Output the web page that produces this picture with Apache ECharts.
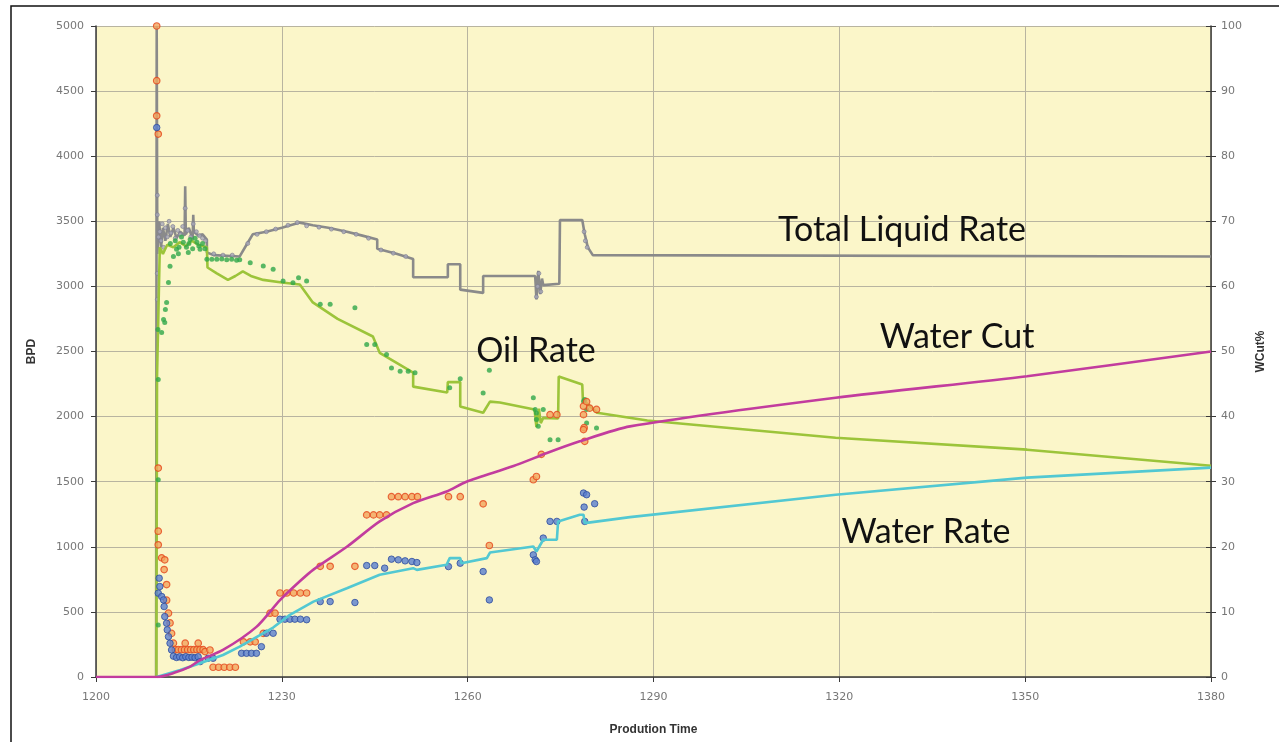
<!DOCTYPE html>
<html><head><meta charset="utf-8">
<script src="https://cdn.jsdelivr.net/npm/echarts@6/dist/echarts.min.js"></script>
<style>html,body{margin:0;padding:0;background:#fff;}#c{width:1279px;height:742px;}</style>
</head><body><div id="c"></div>
<script>
// ---- axis ranges (min, max, interval) ----
const timeAxis = [1200, 1380, 30];
const bpdAxis = [0, 5000, 500];
const wcutAxis = [0, 100, 10];
const axisNames = { x: 'Prodution Time', left: 'BPD', right: 'WCut%' };
const annotations = ['Total Liquid Rate', 'Oil Rate', 'Water Cut', 'Water Rate'];

// ---- Total liquid rate (BPD) ----
const liquidLine = [[1209.7,0],[1209.8,5000],[1209.9,3250],[1210.2,3500],[1210.5,3300],[1210.8,3450],[1211.2,3350],[1211.6,3480],[1212.0,3380],[1212.5,3450],[1213.0,3370],[1213.6,3420],[1214.3,3390],[1214.4,3770],[1214.5,3400],[1215.0,3450],[1215.6,3360],[1215.7,3550],[1215.8,3420],[1216.5,3390],[1217.2,3400],[1217.9,3360],[1217.9,3260],[1219,3240],[1223.2,3230],[1224.3,3320],[1225.3,3400],[1227.5,3420],[1230,3450],[1232.9,3490],[1235,3470],[1237.5,3450],[1240.5,3420],[1243,3390],[1245.4,3360],[1245.4,3290],[1248.5,3250],[1251.2,3210],[1251.2,3070],[1256.8,3070],[1256.8,3170],[1258.8,3170],[1258.8,2975],[1262.5,2950],[1262.5,3080],[1270.9,3080],[1271.1,2900],[1271.4,3120],[1271.7,2940],[1272.0,3060],[1272.2,3010],[1274.8,3020],[1274.9,3510],[1278.5,3510],[1278.9,3400],[1279.4,3300],[1280.2,3240],[1380,3230]];
const liquidPts = [[1209.9,3700],[1209.9,3550],[1209.9,3100],[1209.9,2900],[1210.1,3380],[1210.3,3420],[1210.5,3350],[1210.7,3480],[1210.9,3300],[1211.2,3450],[1211.5,3380],[1211.8,3500],[1212.1,3410],[1212.4,3460],[1212.8,3370],[1213.2,3430],[1213.6,3400],[1214.0,3460],[1214.4,3600],[1214.8,3430],[1215.3,3380],[1215.7,3480],[1216.2,3420],[1216.7,3390],[1217.2,3370],[1217.7,3350],[1219,3250],[1220.5,3240],[1222,3240],[1224.5,3330],[1226,3400],[1227.5,3420],[1229,3440],[1231,3470],[1232.5,3490],[1234,3465],[1236,3455],[1238,3440],[1240,3420],[1242,3400],[1244,3370],[1246,3280],[1248,3255],[1250,3230],[1271.1,2920],[1271.3,3000],[1271.5,3100],[1271.8,2960],[1278.8,3420],[1279.0,3350],[1279.3,3300]];

// ---- Oil rate (BPD) ----
const oilLine = [[1209.75,0],[1209.85,2300],[1210.3,3300],[1210.8,3250],[1211.5,3320],[1212.5,3300],[1213.5,3340],[1214.5,3310],[1215.5,3350],[1216.5,3320],[1217.9,3300],[1218.0,3145],[1219.5,3100],[1221.3,3050],[1222.5,3080],[1223.7,3115],[1225,3080],[1227,3050],[1230,3030],[1232.9,3015],[1235,2877],[1239,2750],[1244.7,2615],[1245.8,2490],[1251.2,2338],[1251.2,2230],[1256.7,2185],[1256.8,2265],[1258.8,2265],[1258.8,2077],[1262.5,2030],[1263.6,2115],[1265.2,2108],[1270.8,2054],[1271.1,1920],[1271.5,2060],[1271.8,1950],[1272.2,1990],[1274.6,1985],[1274.7,2308],[1278.5,2246],[1278.6,2130],[1280.9,2030],[1289,1970],[1319.4,1838],[1350.3,1746],[1380,1623]];
const oilPts = [[1210.05,2285],[1210.05,1515],[1210.05,400],[1210.0,2669],[1210.6,2646],[1210.9,2746],[1211.1,2723],[1211.2,2823],[1211.4,2877],[1211.7,3030],[1211.95,3154],[1212.5,3230],[1213.0,3285],[1214.1,3340],[1215.2,3360],[1216.3,3340],[1216.8,3285],[1212.0,3330],[1212.8,3350],[1213.4,3300],[1213.8,3380],[1214.6,3300],[1215.0,3330],[1215.6,3290],[1216.0,3370],[1216.6,3310],[1217.2,3330],[1217.6,3290],[1214.9,3260],[1213.3,3250],[1217.9,3208],[1218.7,3208],[1219.5,3208],[1220.3,3210],[1221.1,3205],[1221.9,3208],[1222.7,3200],[1223.2,3205],[1224.9,3182],[1227.0,3156],[1228.6,3131],[1230.2,3041],[1231.8,3028],[1232.7,3067],[1234.0,3041],[1236.2,2862],[1237.8,2862],[1241.8,2836],[1243.7,2554],[1245.0,2554],[1246.9,2477],[1247.7,2374],[1249.1,2349],[1250.4,2349],[1251.5,2336],[1257.1,2221],[1258.8,2290],[1262.5,2182],[1263.5,2356],[1270.6,2144],[1270.9,2054],[1271.1,2028],[1271.1,1977],[1271.4,1925],[1272.2,2054],[1273.3,1823],[1274.6,1823],[1278.7,2118],[1278.9,2131],[1279.2,2054],[1279.2,1951],[1280.8,1913]];

// ---- Water rate (BPD) ----
const waterLine = [[1209.8,0],[1213.6,54],[1216.8,105],[1220.5,169],[1223.2,233],[1228.6,380],[1231.3,477],[1235.1,579],[1240.5,682],[1245.8,785],[1251.2,836],[1251.8,823],[1256.6,862],[1257.1,913],[1258.8,913],[1259.0,874],[1263.1,913],[1263.6,956],[1270.6,1002],[1271.1,964],[1272.2,1054],[1274.4,1054],[1274.6,1195],[1278.1,1246],[1278.7,1246],[1278.9,1182],[1286.2,1228],[1319.4,1400],[1350.3,1531],[1380,1608]];
const waterPts = [[1209.8,4220],[1210.05,644],[1210.2,759],[1210.3,695],[1210.6,618],[1210.9,592],[1211.0,541],[1211.1,464],[1211.4,413],[1211.5,362],[1211.7,310],[1211.95,259],[1212.2,208],[1212.5,160],[1213.0,150],[1213.5,155],[1214.0,148],[1214.5,156],[1215.0,150],[1215.5,152],[1216.0,148],[1216.5,155],[1216.8,118],[1218.1,144],[1218.9,144],[1223.5,182],[1224.3,182],[1225.1,182],[1225.9,182],[1226.7,233],[1227.5,336],[1228.6,336],[1229.7,444],[1230.5,444],[1231.3,444],[1232.1,444],[1233.0,444],[1234.0,440],[1236.2,579],[1237.8,579],[1241.8,572],[1243.7,856],[1245.0,856],[1246.6,836],[1247.7,905],[1248.8,900],[1249.9,892],[1251.0,887],[1251.8,879],[1256.9,848],[1258.8,874],[1262.5,810],[1263.5,592],[1270.6,938],[1270.9,900],[1271.1,887],[1272.2,1067],[1273.3,1195],[1274.4,1195],[1278.7,1413],[1279.2,1400],[1278.8,1305],[1280.5,1331],[1278.9,1195]];

// ---- Water cut (%) ----
const wcutLine = [[1200,0],[1209.8,0],[1212.5,0.6],[1215.2,1.6],[1216.8,2.6],[1220.5,4.15],[1225.9,7.7],[1229.7,11.8],[1232.9,14.7],[1235.1,16.5],[1240.5,20.0],[1245.8,23.9],[1251.2,26.7],[1256.6,28.5],[1259.8,30.0],[1267.4,32.4],[1272.8,34.4],[1278.1,36.2],[1286.2,38.5],[1319.4,42.9],[1350.3,46.2],[1380,50]];
const wcutPts = [[1209.8,100],[1209.8,91.6],[1209.8,86.2],[1210.05,83.4],[1210.05,32.1],[1210.05,22.4],[1210.05,20.3],[1210.6,18.3],[1211.1,18.0],[1211.0,16.5],[1211.4,14.2],[1211.4,11.8],[1211.7,9.8],[1211.95,8.3],[1212.2,6.7],[1212.5,5.2],[1212.8,4.2],[1213.3,4.2],[1213.8,4.2],[1214.3,4.2],[1214.8,4.2],[1215.3,4.2],[1215.8,4.2],[1216.3,4.2],[1216.8,4.2],[1217.3,4.2],[1214.4,5.2],[1216.5,5.2],[1217.6,3.9],[1218.4,4.15],[1218.9,1.5],[1219.8,1.5],[1220.7,1.5],[1221.6,1.5],[1222.5,1.5],[1223.8,5.4],[1224.9,5.4],[1225.7,5.4],[1227.0,6.7],[1228.1,9.8],[1228.9,9.8],[1229.7,12.9],[1230.8,12.9],[1231.9,12.9],[1233.0,12.9],[1234.0,12.9],[1236.2,17.0],[1237.8,17.0],[1241.8,17.0],[1243.7,24.9],[1244.8,24.9],[1245.8,24.9],[1246.9,24.9],[1247.7,27.7],[1248.8,27.7],[1249.9,27.7],[1251.0,27.7],[1251.9,27.7],[1256.9,27.7],[1258.8,27.7],[1262.5,26.6],[1263.5,20.2],[1270.6,30.3],[1271.1,30.8],[1271.9,34.2],[1273.3,40.3],[1274.4,40.3],[1278.7,40.3],[1278.8,38.3],[1278.9,36.2],[1278.7,41.6],[1279.7,41.3],[1280.8,41.1],[1278.7,38.0],[1279.2,42.3]];

const chart = echarts.init(document.getElementById('c'), null, {renderer: 'canvas'});
const plain = v => String(v);
const tickLabel = {color: '#777', fontSize: 11, fontFamily: 'DejaVu Sans', formatter: plain};
const nameStyle = {color: '#333', fontSize: 12, fontWeight: 'bold', fontFamily: 'Liberation Sans'};
const annFont = '34px Lato';
chart.setOption({
  animation: false,
  backgroundColor: '#fff',
  grid: {left: 96, right: 68, top: 26, bottom: 65, show: true, backgroundColor: '#FBF6C9', borderWidth: 0},
  xAxis: {
    type: 'value', min: timeAxis[0], max: timeAxis[1], interval: timeAxis[2],
    name: axisNames.x, nameLocation: 'middle', nameGap: 47, nameTextStyle: nameStyle,
    axisLine: {lineStyle: {color: '#3a3a3a', width: 1.5}},
    axisTick: {length: 5, lineStyle: {color: '#3a3a3a'}},
    axisLabel: Object.assign({margin: 15}, tickLabel),
    splitLine: {show: true, lineStyle: {color: '#b8b4a0', width: 1}}
  },
  yAxis: [{
    type: 'value', min: bpdAxis[0], max: bpdAxis[1], interval: bpdAxis[2], position: 'left',
    name: axisNames.left, nameLocation: 'middle', nameGap: 58, nameRotate: 90, nameTextStyle: nameStyle,
    axisLine: {show: true, lineStyle: {color: '#3a3a3a', width: 1.5}},
    axisTick: {show: true, length: 5, lineStyle: {color: '#3a3a3a'}},
    axisLabel: Object.assign({margin: 12}, tickLabel),
    splitLine: {show: true, lineStyle: {color: '#b8b4a0', width: 1}}
  }, {
    type: 'value', min: wcutAxis[0], max: wcutAxis[1], interval: wcutAxis[2], position: 'right',
    name: axisNames.right, nameLocation: 'middle', nameGap: 44, nameRotate: 90, nameTextStyle: nameStyle,
    axisLine: {show: true, lineStyle: {color: '#3a3a3a', width: 1.5}},
    axisTick: {show: true, length: 5, lineStyle: {color: '#3a3a3a'}},
    axisLabel: Object.assign({margin: 10}, tickLabel),
    splitLine: {show: false}
  }, {
    type: 'value', min: wcutAxis[0], max: wcutAxis[1], interval: wcutAxis[2], position: 'right',
    axisLine: {show: false}, axisLabel: {show: false}, splitLine: {show: false},
    axisTick: {show: true, inside: true, length: 5, lineStyle: {color: '#3a3a3a'}}
  }],
  graphic: [
    {type: 'rect', shape: {x: 11, y: 6, width: 1400, height: 900}, style: {fill: 'none', stroke: '#111', lineWidth: 1.5}, silent: true, z: 100},
    {type: 'text', x: 902, y: 230, style: {text: annotations[0], font: annFont, fill: '#111', align: 'center', verticalAlign: 'middle'}, z: 100},
    {type: 'text', x: 536, y: 351, style: {text: annotations[1], font: annFont, fill: '#111', align: 'center', verticalAlign: 'middle'}, z: 100},
    {type: 'text', x: 957, y: 337, style: {text: annotations[2], font: annFont, fill: '#111', align: 'center', verticalAlign: 'middle'}, z: 100},
    {type: 'text', x: 926, y: 532, style: {text: annotations[3], font: annFont, fill: '#111', align: 'center', verticalAlign: 'middle'}, z: 100}
  ],
  series: [
    {name: 'Total Liquid Rate', type: 'line', data: liquidLine, showSymbol: false, lineStyle: {color: '#8a8a8a', width: 2.6}, z: 2},
    {name: 'Liquid pts', type: 'scatter', data: liquidPts, symbolSize: 4, itemStyle: {color: '#a8a8b8', borderColor: '#7c7c90', borderWidth: 0.8}, z: 3},
    {name: 'Oil Rate', type: 'line', data: oilLine, showSymbol: false, lineStyle: {color: '#9CC43A', width: 2.6}, z: 4},
    {name: 'Oil pts', type: 'scatter', data: oilPts, symbolSize: 5, itemStyle: {color: '#2FA84A'}, z: 5},
    {name: 'WCut pts', type: 'scatter', yAxisIndex: 1, data: wcutPts, symbolSize: 6.5, itemStyle: {color: '#F2A55E', borderColor: '#E5461C', borderWidth: 1.2}, z: 5},
    {name: 'Water pts', type: 'scatter', data: waterPts, symbolSize: 6.5, itemStyle: {color: '#5A80D0', borderColor: '#2E4C9E', borderWidth: 1}, z: 5},
    {name: 'Water Rate', type: 'line', data: waterLine, showSymbol: false, lineStyle: {color: '#52C8D2', width: 2.6}, z: 6},
    {name: 'Water Cut', type: 'line', yAxisIndex: 1, data: wcutLine, showSymbol: false, smooth: 0.25, lineStyle: {color: '#C23C9E', width: 2.6}, z: 7}
  ]
});
</script></body></html>
